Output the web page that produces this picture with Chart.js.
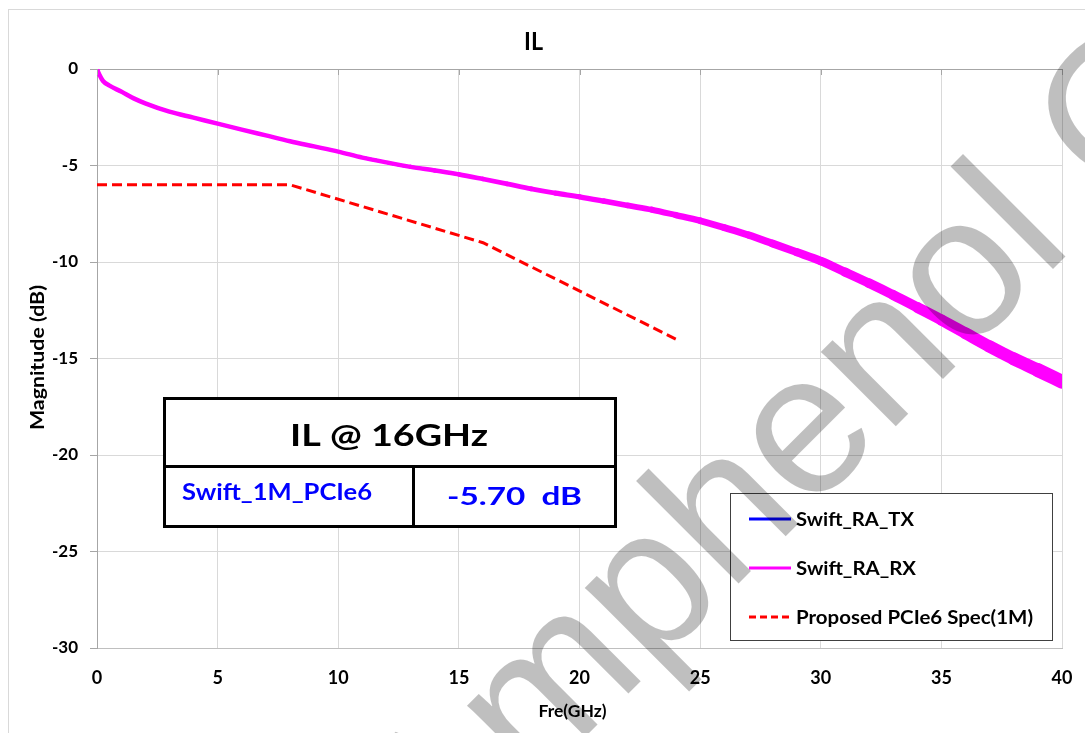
<!DOCTYPE html>
<html>
<head>
<meta charset="utf-8">
<script src="https://cdn.jsdelivr.net/npm/chart.js@4.4.0/dist/chart.umd.min.js"></script>
<style>
html,body{margin:0;padding:0;background:#fff;}
#wrap{position:relative;width:1085px;height:733px;overflow:hidden;}
canvas{display:block;}
</style>
</head>
<body>
<div id="wrap"><canvas id="c" width="1085" height="733"></canvas></div>
<script>
// ---- data ----
const freqGHz = [0,0.1,0.25,0.5,1,1.5,2,3,4,5,6,7,8,9,10,11,12,13,14,15,16,17,18,19,20,21,22,23,24,25,26,27,28,29,30,31,32,33,34,35,36,37,38,39,40];
const rxIL = [0,-0.3,-0.62,-0.85,-1.17,-1.51,-1.78,-2.21,-2.52,-2.83,-3.14,-3.44,-3.74,-4.01,-4.28,-4.59,-4.84,-5.07,-5.26,-5.46,-5.70,-5.95,-6.21,-6.43,-6.62,-6.84,-7.07,-7.29,-7.57,-7.86,-8.22,-8.60,-9.04,-9.49,-9.95,-10.52,-11.10,-11.71,-12.35,-13.00,-13.69,-14.38,-15.02,-15.60,-16.20];
const txIL = [0,-0.3,-0.62,-0.85,-1.17,-1.51,-1.78,-2.21,-2.52,-2.83,-3.14,-3.44,-3.74,-4.01,-4.28,-4.59,-4.84,-5.07,-5.26,-5.46,-5.70,-5.95,-6.21,-6.43,-6.62,-6.84,-7.07,-7.29,-7.57,-7.87,-8.24,-8.63,-9.08,-9.54,-10.01,-10.59,-11.18,-11.80,-12.45,-13.10,-13.80,-14.50,-15.15,-15.74,-16.35];
const specFreq = [0,8,16,24];
const specIL = [-6,-6,-9,-14];
const xTicks = [0,5,10,15,20,25,30,35,40];
const yTicks = [0,-5,-10,-15,-20,-25,-30];
const seriesNames = ['Swift_RA_TX','Swift_RA_RX','Proposed PCIe6 Spec(1M)'];
const chartTitle = 'IL';
const xTitle = 'Fre(GHz)';
const yTitle = 'Magnitude (dB)';
const tableHeader = 'IL @ 16GHz';
const tableName = 'Swift_1M_PCIe6';
const tableValue = '-5.70  dB';
const watermark = 'Amphenol Confidential';

const FONT = 'Lato, "Open Sans", sans-serif';

const pts = (xs, ys) => xs.map((x, i) => ({x: x, y: ys[i]}));

// draw bold text stretched horizontally to a target width (Calibri-like proportions)
function fitText(ctx, text, x, y, size, width, align, rot) {
  ctx.save();
  ctx.font = 'bold ' + size + 'px ' + FONT;
  const w = ctx.measureText(text).width;
  ctx.translate(x, y);
  if (rot) ctx.rotate(rot);
  ctx.scale(width / w, 1);
  ctx.textAlign = align;
  ctx.textBaseline = 'alphabetic';
  ctx.fillText(text, 0, 0);
  ctx.restore();
}

const decor = {
  id: 'decor',
  beforeDraw(chart) {
    const ctx = chart.ctx;
    ctx.save();
    ctx.strokeStyle = '#d9d9d9';
    ctx.lineWidth = 1;
    ctx.strokeRect(8.5, 9.5, 1200, 800);
    ctx.restore();
  },
  afterDraw(chart) {
    const ctx = chart.ctx;
    const xs = chart.scales.x;
    const area = chart.chartArea;
    ctx.save();
    // top tick marks (x axis crosses at 0 dB)
    ctx.strokeStyle = '#a6a6a6';
    ctx.lineWidth = 1;
    xTicks.forEach(v => {
      const px = Math.round(xs.getPixelForValue(v)) + 0.5;
      ctx.beginPath(); ctx.moveTo(px, area.top); ctx.lineTo(px, area.top + 6); ctx.stroke();
    });
    // titles
    ctx.fillStyle = '#000';
    fitText(ctx, chartTitle, 533.5, 50, 24, 19, 'center');
    fitText(ctx, xTitle, 572.6, 717, 17, 68, 'center');
    fitText(ctx, yTitle, 44, 357.5, 19.5, 145, 'center', -Math.PI / 2);

    // table
    ctx.fillStyle = '#fff';
    ctx.fillRect(164, 398, 452, 129);
    ctx.strokeStyle = '#000';
    ctx.lineWidth = 3;
    ctx.strokeRect(164.5, 398.5, 451, 128);
    ctx.beginPath(); ctx.moveTo(164, 466.5); ctx.lineTo(616, 466.5); ctx.stroke();
    ctx.beginPath(); ctx.moveTo(413.5, 466); ctx.lineTo(413.5, 527); ctx.stroke();
    ctx.fillStyle = '#000';
    fitText(ctx, tableHeader, 389, 446, 30, 198, 'center');
    ctx.fillStyle = '#0000ff';
    fitText(ctx, tableName, 182, 500, 22.5, 190, 'left');
    fitText(ctx, tableValue, 447, 505, 25.5, 135, 'left');

    // legend
    ctx.fillStyle = '#fff';
    ctx.fillRect(730, 493, 322, 147);
    ctx.strokeStyle = '#404040';
    ctx.lineWidth = 1;
    ctx.strokeRect(730.5, 493.5, 322, 147);
    const legY = [519, 568, 617];
    const legBase = [526, 575, 624];
    const legW = [118, 120, 237];
    chart.data.datasets.forEach((ds, i) => {
      ctx.save();
      ctx.strokeStyle = ds.borderColor;
      ctx.lineWidth = 3;
      ctx.setLineDash(ds.borderDash ? [7, 4] : []);
      ctx.beginPath(); ctx.moveTo(749, legY[i]); ctx.lineTo(791, legY[i]); ctx.stroke();
      ctx.restore();
      ctx.fillStyle = '#000';
      fitText(ctx, ds.label, 796, legBase[i], 19, legW[i], 'left');
    });

    // watermark
    ctx.save();
    ctx.translate(438, 884);
    ctx.rotate(-Math.PI / 4);
    ctx.fillStyle = 'rgba(0,0,0,0.25)';
    ctx.textAlign = 'left'; ctx.textBaseline = 'alphabetic';
    ctx.font = '200px "Liberation Sans", Arial, sans-serif';
    ctx.fillText(watermark, 0, 0);
    ctx.restore();
    ctx.restore();
  }
};

new Chart(document.getElementById('c'), {
  type: 'line',
  data: {
    datasets: [
      {
        label: seriesNames[0],
        data: pts(freqGHz, txIL),
        borderColor: '#0000ff',
        borderWidth: 3,
        pointRadius: 0,
        cubicInterpolationMode: 'monotone',
        order: 2
      },
      {
        label: seriesNames[1],
        data: pts(freqGHz, rxIL),
        borderColor: '#ff00ff',
        borderWidth: 4.5,
        borderCapStyle: 'round',
        borderJoinStyle: 'round',
        pointRadius: 0,
        cubicInterpolationMode: 'monotone',
        segment: {
          borderWidth: c => {
            const x = c.p0.parsed.x;
            return x < 12 ? 4.5 : 4.5 + 0.013 * (x - 12) * (x - 12);
          }
        },
        order: 1
      },
      {
        label: seriesNames[2],
        data: pts(specFreq, specIL),
        borderColor: '#ff0000',
        borderWidth: 3,
        borderDash: [10, 5],
        pointRadius: 0,
        tension: 0,
        order: 0
      }
    ]
  },
  options: {
    responsive: false,
    animation: false,
    devicePixelRatio: 1,
    layout: { padding: { left: 37, right: 23, top: 69, bottom: 35 } },
    plugins: { legend: { display: false }, title: { display: false }, tooltip: { enabled: false } },
    scales: {
      x: {
        type: 'linear', min: 0, max: 40,
        afterFit: s => { s.height = 50; s.paddingLeft = 0; s.paddingRight = 0; },
        afterBuildTicks: s => { s.ticks = xTicks.map(v => ({ value: v })); },
        ticks: { font: { family: FONT, size: 18, weight: 'bold' }, color: '#000', padding: 19, maxRotation: 0 },
        grid: { color: c => (c.tick && c.tick.value === 0) ? '#a6a6a6' : '#d9d9d9', drawTicks: false },
        border: { color: '#bfbfbf' }
      },
      y: {
        type: 'linear', min: -30, max: 0,
        afterFit: s => { s.width = 60; s.paddingTop = 0; s.paddingBottom = 0; },
        afterBuildTicks: s => { s.ticks = yTicks.map(v => ({ value: v })); },
        ticks: { font: { family: FONT, size: 17, weight: 'bold' }, color: '#000', padding: 12 },
        grid: { color: c => (c.tick && c.tick.value === 0) ? '#a6a6a6' : (c.tick && c.tick.value === -30 ? '#bfbfbf' : '#d9d9d9'), tickColor: '#a6a6a6', tickLength: 7 },
        border: { color: '#a6a6a6' }
      }
    }
  },
  plugins: [decor]
});
</script>
</body>
</html>
